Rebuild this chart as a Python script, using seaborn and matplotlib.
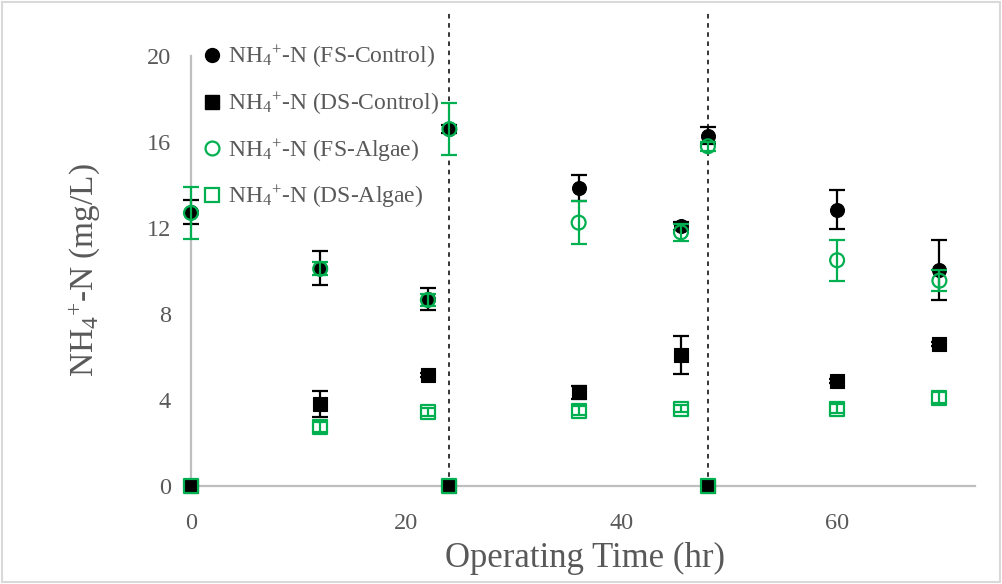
import numpy as np
import matplotlib
matplotlib.use("Agg")
import matplotlib.pyplot as plt
from matplotlib.lines import Line2D
from matplotlib.patches import Rectangle
from matplotlib.ticker import MultipleLocator
import seaborn as sns

# operating time (hr)
time_hr = [0, 12, 22, 24, 36, 45.5, 48, 60, 69.5]

# NH4+-N (mg/L) and error bars
fs_control = [12.75, 10.15, 8.7, 16.6, 13.85, 12.1, 16.3, 12.85, 10.05]
fs_control_err = [0.55, 0.8, 0.5, 0.2, 0.6, 0.2, 0.4, 0.9, 1.4]
ds_control = [0, 3.8, 5.15, 0, 4.35, 6.1, 0, 4.9, 6.6]
ds_control_err = [0, 0.6, 0.1, 0, 0.3, 0.9, 0, 0.1, 0.1]
fs_algae = [12.7, 10.1, 8.65, 16.6, 12.25, 11.8, 15.8, 10.5, 9.55]
fs_algae_err = [1.2, 0.3, 0.3, 1.2, 1.0, 0.4, 0.2, 0.95, 0.5]
ds_algae = [0, 2.75, 3.45, 0, 3.5, 3.6, 0, 3.6, 4.1]
ds_algae_err = [0, 0.25, 0.2, 0, 0.2, 0.15, 0, 0.2, 0.25]

labels = ["NH$_4$$^{+}$-N (FS-Control)", "NH$_4$$^{+}$-N (DS-Control)",
          "NH$_4$$^{+}$-N (FS-Algae)", "NH$_4$$^{+}$-N (DS-Algae)"]
cycle_marks = [24, 48]

GREEN = "#00B050"
GREY_TXT = "#595959"
GREY_AX = "#BFBFBF"

sns.set_style("white")
plt.rcParams["font.family"] = ["Liberation Serif", "DejaVu Serif"]
plt.rcParams["mathtext.fontset"] = "custom"
plt.rcParams["mathtext.rm"] = "Liberation Serif"
plt.rcParams["mathtext.it"] = "Liberation Serif:italic"
plt.rcParams["mathtext.default"] = "regular"

fig = plt.figure(figsize=(10.02, 5.84), dpi=100)
ax = fig.add_axes([0.1906, 0.1678, 0.7824, 0.8151])

series = [
    (fs_control, fs_control_err, "o", "black", "black", 3),
    (ds_control, ds_control_err, "s", "black", "black", 3),
    (fs_algae, fs_algae_err, "o", "none", GREEN, 5),
    (ds_algae, ds_algae_err, "s", "none", GREEN, 5),
]

x = np.array(time_hr)
for vals, errs, mk, face, edge, z in series:
    vals = np.array(vals)
    errs = np.array(errs)
    keep = errs > 0
    eb = ax.errorbar(x[keep], vals[keep], yerr=errs[keep], fmt="none", ecolor=edge,
                     elinewidth=1.6, capsize=5.5, capthick=1.6, zorder=z - 1)
    for art in eb.lines[1] + eb.lines[2]:
        art.set_clip_on(False)
    sns.scatterplot(x=x, y=vals, marker=mk, s=100, color=edge, facecolor=face,
                    edgecolor=edge, linewidth=1.6 if face == "none" else 0.8,
                    ax=ax, zorder=z, legend=False, clip_on=False)

for xm in cycle_marks:
    ax.axvline(xm, color="black", lw=1.1, ls=(0, (3, 3)), zorder=1)

ax.set_xlim(0, 72.8)
ax.set_ylim(0, 22.14)
ax.set_yticks([0, 4, 8, 12, 16, 20])
ax.set_xticks([0, 20, 40, 60])
ax.xaxis.set_minor_locator(MultipleLocator(5))
ax.yaxis.set_minor_locator(MultipleLocator(2))

for side in ["top", "right"]:
    ax.spines[side].set_visible(False)
for side in ["left", "bottom"]:
    ax.spines[side].set_color(GREY_AX)
    ax.spines[side].set_linewidth(1.6)
ax.spines["left"].set_bounds(0, 20)

ax.tick_params(which="major", direction="inout", length=11, width=1.3, color=GREY_AX,
               labelcolor=GREY_TXT, labelsize=17.5)
ax.tick_params(which="minor", direction="in", length=5, width=1.3, color=GREY_AX)
ax.tick_params(axis="y", which="major", pad=9)
ax.tick_params(axis="x", which="major", pad=14)

ax.set_xlabel("Operating Time (hr)", fontsize=25, color=GREY_TXT)
ax.set_ylabel("NH$_4$$^{+}$-N (mg/L)", fontsize=24, color=GREY_TXT)
ax.xaxis.set_label_coords(0.503, -0.118)
ax.yaxis.set_label_coords(-0.114, 0.454)

handles = [
    Line2D([], [], ls="none", marker="o", ms=10, mfc="black", mec="black"),
    Line2D([], [], ls="none", marker="s", ms=10, mfc="black", mec="black"),
    Line2D([], [], ls="none", marker="o", ms=10, mfc="none", mec=GREEN, mew=1.6),
    Line2D([], [], ls="none", marker="s", ms=10, mfc="none", mec=GREEN, mew=1.6),
]
ax.legend(handles, labels, loc="upper left", bbox_to_anchor=(203 / 1002, 1 - 44 / 584),
          bbox_transform=fig.transFigure, frameon=False, fontsize=17, labelcolor=GREY_TXT,
          handlelength=0.8, handletextpad=0.25, labelspacing=0.85, borderpad=0,
          borderaxespad=0)

fig.patches.append(Rectangle((0.002, 0.003), 0.996, 0.994, transform=fig.transFigure,
                             fill=False, edgecolor="#D9D9D9", lw=1.5))

fig.savefig("out.png", dpi=100)
